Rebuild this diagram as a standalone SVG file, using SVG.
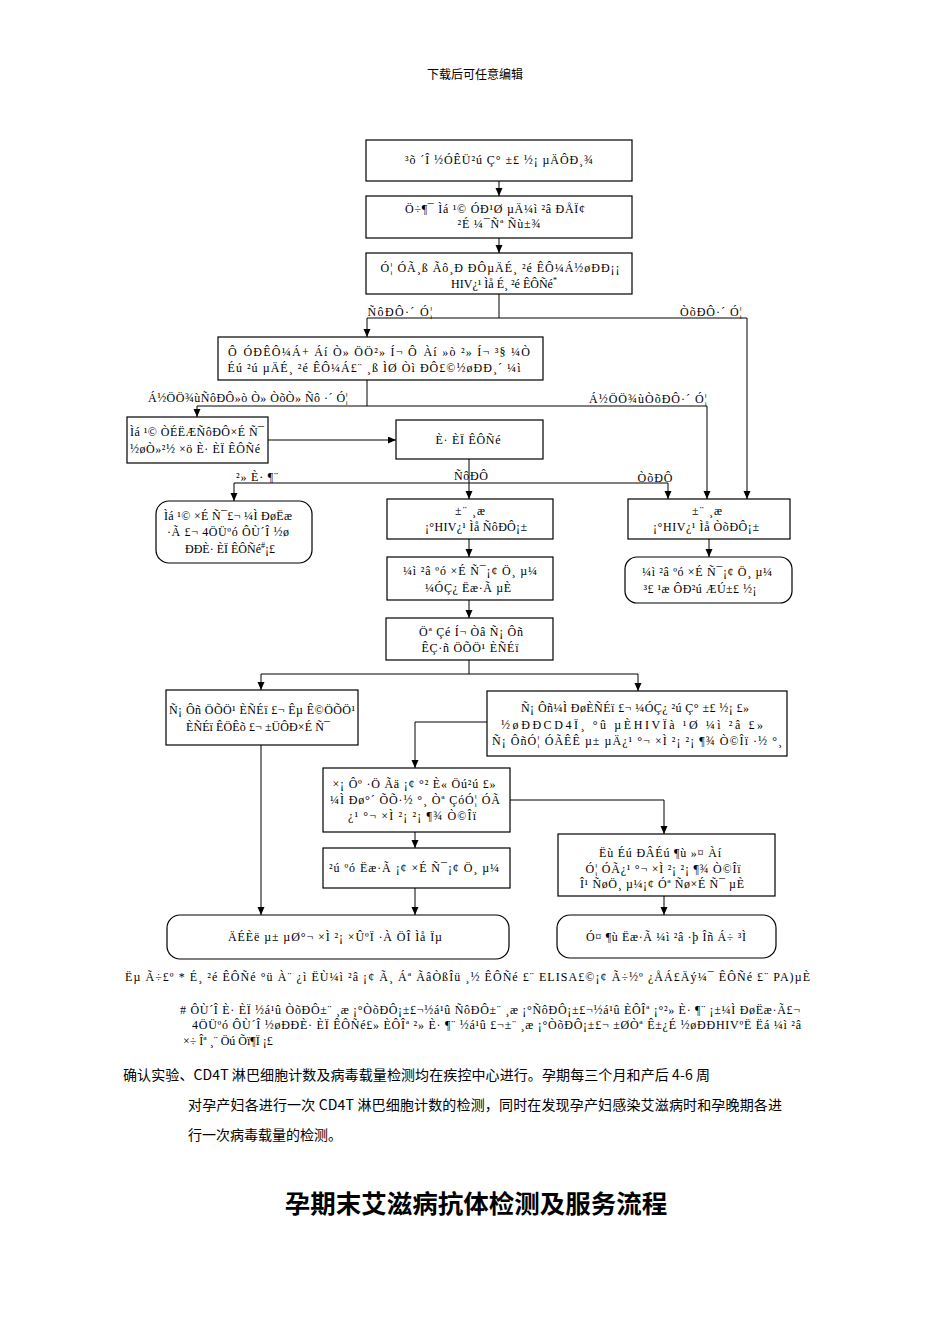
<svg xmlns="http://www.w3.org/2000/svg" width="950" height="1344" viewBox="0 0 950 1344">
<style>
.bx{fill:#fff;stroke:#000;stroke-width:1.2}
.cn{fill:none;stroke:#000;stroke-width:1}
.t{font-family:"Liberation Serif","Times New Roman",serif;font-size:12px;fill:#000;text-anchor:middle}
.tl{font-family:"Liberation Serif","Times New Roman",serif;font-size:12px;fill:#000}
.cj{font-family:"Noto Sans CJK SC","Noto Sans",sans-serif;font-size:14px;fill:#000}
.sup{font-size:8px}
</style>
<defs>
<marker id="ah" markerWidth="8" markerHeight="8" refX="8" refY="3.5" orient="auto" markerUnits="userSpaceOnUse">
<path d="M0,0 L8,3.5 L0,7 z" fill="#000"/>
</marker>
</defs>
<rect width="950" height="1344" fill="#fff"/>
<text x="475" y="79" class="cj" style="font-size:12px" text-anchor="middle">下载后可任意编辑</text>

<g id="connectors">
<path class="cn" d="M499,181 V196" marker-end="url(#ah)"/>
<path class="cn" d="M499,238 V253" marker-end="url(#ah)"/>
<path class="cn" d="M499,294 V318 M367,318 H747"/>
<path class="cn" d="M367,318 V337" marker-end="url(#ah)"/>
<path class="cn" d="M747,318 V499" marker-end="url(#ah)"/>
<path class="cn" d="M367,380 V406 M197,406 H707"/>
<path class="cn" d="M197,406 V417" marker-end="url(#ah)"/>
<path class="cn" d="M707,406 V499" marker-end="url(#ah)"/>
<path class="cn" d="M268,440 H396" marker-end="url(#ah)"/>
<path class="cn" d="M469,459 V483 M234,483 H668"/>
<path class="cn" d="M234,483 V501" marker-end="url(#ah)"/>
<path class="cn" d="M469,483 V499" marker-end="url(#ah)"/>
<path class="cn" d="M668,483 V499" marker-end="url(#ah)"/>
<path class="cn" d="M469,539 V557" marker-end="url(#ah)"/>
<path class="cn" d="M709,539 V557" marker-end="url(#ah)"/>
<path class="cn" d="M469,600 V618" marker-end="url(#ah)"/>
<path class="cn" d="M469,660 V674 M261,674 H638"/>
<path class="cn" d="M261,674 V690" marker-end="url(#ah)"/>
<path class="cn" d="M638,674 V691" marker-end="url(#ah)"/>
<path class="cn" d="M487,722 H415 V768" marker-end="url(#ah)"/>
<path class="cn" d="M510,800 H664 V834" marker-end="url(#ah)"/>
<path class="cn" d="M415,832 V848" marker-end="url(#ah)"/>
<path class="cn" d="M415,888 V915" marker-end="url(#ah)"/>
<path class="cn" d="M261,745 V915" marker-end="url(#ah)"/>
<path class="cn" d="M664,896 V915" marker-end="url(#ah)"/>
<text class="t" x="400" y="316" textLength="65" lengthAdjust="spacing">ÑôÐÔ·´ Ó¦</text>
<text class="t" x="711" y="316" textLength="62" lengthAdjust="spacing">ÒõÐÔ·´ Ó¦</text>
<text class="t" x="248" y="402" textLength="200" lengthAdjust="spacing">Á½ÖÖ¾ùÑôÐÔ»ò Ò» ÒõÒ» Ñô ·´ Ó¦</text>
<text class="t" x="648" y="403" textLength="118" lengthAdjust="spacing">Á½ÖÖ¾ùÒõÐÔ·´ Ó¦</text>
<text class="t" x="257" y="481" textLength="42" lengthAdjust="spacing">²» È· ¶¨</text>
<text class="t" x="471" y="480" textLength="34" lengthAdjust="spacing">ÑôÐÔ</text>
<text class="t" x="655" y="482" textLength="35" lengthAdjust="spacing">ÒõÐÔ</text>
</g>

<g id="n1"><rect class="bx" x="366" y="140" width="266" height="41"/>
<text class="t" x="499" y="164" textLength="188" lengthAdjust="spacing">³õ ´Î ½ÓÊÜ²ú Ç° ±£ ½¡ µÄÔÐ¸¾</text></g>

<g id="n2"><rect class="bx" x="366" y="196" width="266" height="42"/>
<text class="t" x="495" y="213" textLength="180" lengthAdjust="spacing">Ö÷¶¯ Ìá ¹© ÓÐ¹Ø µÄ¼ì ²â ÐÅÏ¢</text>
<text class="t" x="499" y="228" textLength="83" lengthAdjust="spacing">²É ¼¯Ñª Ñù±¾</text></g>

<g id="n3"><rect class="bx" x="366" y="253" width="266" height="41"/>
<text class="t" x="500" y="272" textLength="239" lengthAdjust="spacing">Ó¦ ÓÃ¸ß Ãô¸Ð ÐÔµÄÉ¸ ²é ÊÔ¼Á½øÐÐ¡¡</text>
<text class="t" x="504" y="288">HIV¿¹ Ìå É¸ ²é ÊÔÑé<tspan class="sup" dy="-5">*</tspan></text></g>

<g id="n4"><rect class="bx" x="218" y="337" width="325" height="43"/>
<text class="t" x="379" y="356" textLength="302" lengthAdjust="spacing">Ô­ ÓÐÊÔ¼Á+ Áí Ò» ÖÖ²» Í¬ Ô­ Àí »ò ²» Í¬ ³§ ¼Ò</text>
<text class="t" x="374" y="372" textLength="293" lengthAdjust="spacing">Éú ²ú µÄÉ¸ ²é ÊÔ¼Á£¨ ¸ß ÌØ Òì ÐÔ£©½øÐÐ¸´ ¼ì</text></g>

<g id="n5"><rect class="bx" x="127" y="417" width="141" height="46"/>
<text class="tl" x="130" y="436" textLength="134" lengthAdjust="spacing">Ìá ¹© ÒÉËÆÑôÐÔ×É Ñ¯</text>
<text class="tl" x="130" y="453" textLength="130" lengthAdjust="spacing">½øÒ»²½ ×ö È· ÈÏ ÊÔÑé</text></g>

<g id="n6"><rect class="bx" x="396" y="420" width="147" height="39"/>
<text class="t" x="468" y="444" textLength="65" lengthAdjust="spacing">È· ÈÏ ÊÔÑé</text></g>

<g id="n7"><rect class="bx" x="156" y="501" width="156" height="62" rx="13"/>
<text class="t" x="228" y="520" textLength="128" lengthAdjust="spacing">Ìá ¹© ×É Ñ¯£¬ ¼Ì ÐøËæ</text>
<text class="t" x="228" y="536" textLength="122" lengthAdjust="spacing">·Ã £¬ 4ÖÜºó ÔÙ´Î ½ø</text>
<text class="t" x="230" y="553">ÐÐÈ· ÈÏ ÊÔÑé<tspan class="sup" dy="-5">#</tspan><tspan dy="5">¡£</tspan></text></g>

<g id="n8"><rect class="bx" x="387" y="499" width="166" height="40"/>
<text class="t" x="470" y="515" textLength="30" lengthAdjust="spacing">±¨ ¸æ</text>
<text class="t" x="476" y="531" textLength="102" lengthAdjust="spacing">¡°HIV¿¹ Ìå ÑôÐÔ¡±</text></g>

<g id="n9"><rect class="bx" x="628" y="499" width="162" height="40"/>
<text class="t" x="707" y="515" textLength="30" lengthAdjust="spacing">±¨ ¸æ</text>
<text class="t" x="706" y="531" textLength="106" lengthAdjust="spacing">¡°HIV¿¹ Ìå ÒõÐÔ¡±</text></g>

<g id="n10"><rect class="bx" x="387" y="557" width="166" height="43"/>
<text class="t" x="470" y="575" textLength="134" lengthAdjust="spacing">¼ì ²â ºó ×É Ñ¯¡¢ Ö¸ µ¼</text>
<text class="t" x="468" y="592" textLength="86" lengthAdjust="spacing">¼ÓÇ¿ Ëæ·Ã µÈ</text></g>

<g id="n11"><rect class="bx" x="625" y="557" width="167" height="46" rx="12"/>
<text class="t" x="707" y="576" textLength="130" lengthAdjust="spacing">¼ì ²â ºó ×É Ñ¯¡¢ Ö¸ µ¼</text>
<text class="t" x="700" y="593" textLength="113" lengthAdjust="spacing">³£ ¹æ ÔÐ²ú ÆÚ±£ ½¡</text></g>

<g id="n12"><rect class="bx" x="386" y="618" width="167" height="42"/>
<text class="t" x="471" y="636" textLength="104" lengthAdjust="spacing">Öª Çé Í¬ Òâ Ñ¡ Ôñ</text>
<text class="t" x="470" y="652" textLength="97" lengthAdjust="spacing">ÊÇ·ñ ÖÕÖ¹ ÈÑÉï</text></g>

<g id="n13"><rect class="bx" x="166" y="690" width="192" height="55"/>
<text class="t" x="262" y="714" textLength="186" lengthAdjust="spacing">Ñ¡ Ôñ ÖÕÖ¹ ÈÑÉï £¬ Êµ Ê©ÖÕÖ¹</text>
<text class="t" x="258" y="731" textLength="144" lengthAdjust="spacing">ÈÑÉï ÊÖÊõ £¬ ±ÜÔÐ×É Ñ¯</text></g>

<g id="n14"><rect class="bx" x="487" y="691" width="300" height="65"/>
<text class="t" x="635" y="712" textLength="228" lengthAdjust="spacing">Ñ¡ Ôñ¼Ì ÐøÈÑÉï £¬ ¼ÓÇ¿ ²ú Ç° ±£ ½¡ £»</text>
<text class="t" x="632" y="729" textLength="262" lengthAdjust="spacing">½øÐÐCD4Ï¸ °û µÈHIVÏà ¹Ø ¼ì ²â £»</text>
<text class="t" x="637" y="745" textLength="290" lengthAdjust="spacing">Ñ¡ ÔñÓ¦ ÓÃÊÊ µ± µÄ¿¹ °¬ ×Ì ²¡ ²¡ ¶¾ Ò©Îï ·½ °¸</text></g>

<g id="n15"><rect class="bx" x="323" y="768" width="187" height="64"/>
<text class="t" x="414" y="788" textLength="163" lengthAdjust="spacing">×¡ Ôº ·Ö Ãä ¡¢ °² È« Öú²ú £»</text>
<text class="t" x="415" y="804" textLength="170" lengthAdjust="spacing">¼Ì Ðø°´ ÕÕ·½ °¸ Òª ÇóÓ¦ ÓÃ</text>
<text class="t" x="412" y="820" textLength="128" lengthAdjust="spacing">¿¹ °¬ ×Ì ²¡ ²¡ ¶¾ Ò©Îï</text></g>

<g id="n16"><rect class="bx" x="323" y="848" width="187" height="40"/>
<text class="t" x="414" y="872" textLength="170" lengthAdjust="spacing">²ú ºó Ëæ·Ã ¡¢ ×É Ñ¯¡¢ Ö¸ µ¼</text></g>

<g id="n17"><rect class="bx" x="558" y="834" width="217" height="62"/>
<text class="t" x="660" y="857" textLength="122" lengthAdjust="spacing">Ëù Éú ÐÂÉú ¶ù »¤ Àí</text>
<text class="t" x="663" y="873" textLength="155" lengthAdjust="spacing">Ó¦ ÓÃ¿¹ °¬ ×Ì ²¡ ²¡ ¶¾ Ò©Îï</text>
<text class="t" x="662" y="888" textLength="164" lengthAdjust="spacing">Î¹ ÑøÖ¸ µ¼¡¢ Óª Ñø×É Ñ¯ µÈ</text></g>

<g id="n18"><rect class="bx" x="167" y="915" width="342" height="44" rx="13"/>
<text class="t" x="335" y="941" textLength="214" lengthAdjust="spacing">ÄÉÈë µ± µØ°¬ ×Ì ²¡ ×ÛºÏ ·À ÖÎ Ìå Ïµ</text></g>

<g id="n19"><rect class="bx" x="557" y="915" width="219" height="43" rx="13"/>
<text class="t" x="666" y="941" textLength="160" lengthAdjust="spacing">Ó¤ ¶ù Ëæ·Ã ¼ì ²â ·þ Îñ Á÷ ³Ì</text></g>

<g id="notes">
<text class="tl" x="125" y="981" textLength="685" lengthAdjust="spacing">Ëµ Ã÷£º * É¸ ²é ÊÔÑé °ü À¨ ¿ì ËÙ¼ì ²â ¡¢ Ã¸ Áª ÃâÒßÎü ¸½ ÊÔÑé £¨ ELISA£©¡¢ Ã÷½º ¿ÅÁ£Äý¼¯ ÊÔÑé £¨ PA)µÈ</text>
<text class="tl" x="180" y="1014" textLength="620" lengthAdjust="spacing"># ÔÙ´Î È· ÈÏ ½á¹û ÒõÐÔ±¨ ¸æ ¡°ÒõÐÔ¡±£¬½á¹û ÑôÐÔ±¨ ¸æ ¡°ÑôÐÔ¡±£¬½á¹û ÈÔÎª ¡°²» È· ¶¨ ¡±¼Ì ÐøËæ·Ã£¬</text>
<text class="tl" x="192" y="1029" textLength="609" lengthAdjust="spacing">4ÖÜºó ÔÙ´Î ½øÐÐÈ· ÈÏ ÊÔÑé£» ÈÔÎª ²» È· ¶¨ ½á¹û £¬±¨ ¸æ ¡°ÒõÐÔ¡±£¬ ±ØÒª Ê±¿É ½øÐÐHIVºË Ëá ¼ì ²â</text>
<text class="tl" x="183" y="1045">×÷ Îª ¸¨ Öú Õï¶Ï ¡£</text>
<text class="cj" x="123" y="1080" textLength="587" lengthAdjust="spacing">确认实验、CD4T 淋巴细胞计数及病毒载量检测均在疾控中心进行。孕期每三个月和产后 4-6 周</text>
<text class="cj" x="188" y="1110" textLength="594" lengthAdjust="spacing">对孕产妇各进行一次 CD4T 淋巴细胞计数的检测，同时在发现孕产妇感染艾滋病时和孕晚期各进</text>
<text class="cj" x="188" y="1140">行一次病毒载量的检测。</text>
<text class="cj" x="476" y="1213" text-anchor="middle" style="font-size:25.5px;font-weight:bold">孕期末艾滋病抗体检测及服务流程</text>
</g>
</svg>
